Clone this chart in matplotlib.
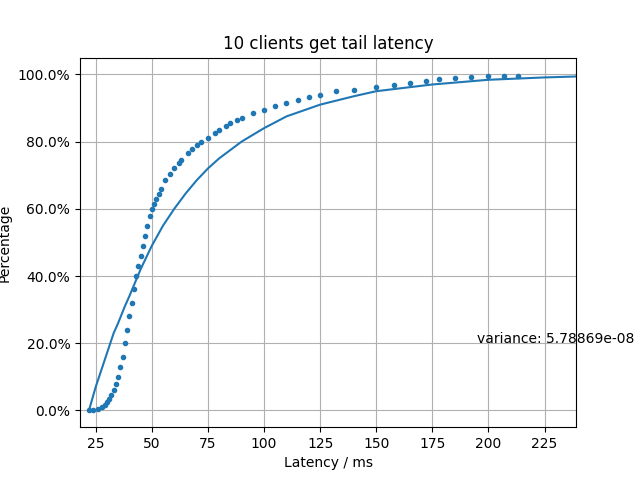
import matplotlib
matplotlib.use("Agg")
import matplotlib.pyplot as plt
from matplotlib.ticker import PercentFormatter

# empirical latency samples (ms) and their cumulative percentage (%)
lat = [22, 24, 26, 28, 29, 30, 31, 32, 33, 34, 35, 36, 37, 38, 39, 40, 41, 42, 43, 44,
       45, 46, 47, 48, 49, 50, 51, 52, 53, 54, 56, 58, 60, 62, 63, 66, 68, 70, 72, 75, 78, 80, 83, 85, 88,
       90, 95, 100, 105, 110, 115, 120, 125, 132, 140, 150, 158, 165, 172, 178, 185, 192, 200, 207, 213, 240]
pct = [0, 0, 0.3, 1, 1.5, 2.5, 3.5, 4.5, 6, 8, 10, 13, 16, 20, 24, 28, 32, 36, 40, 43,
       46, 49, 52, 55, 58, 60, 61.5, 63, 64.5, 66, 68.5, 70.5, 72, 73.5, 74.5, 76.5, 77.8, 79, 80, 81, 82.5, 83.5, 84.5, 85.5, 86.3,
       87, 88.5, 89.5, 90.5, 91.5, 92.5, 93.3, 94, 95, 95.5, 96.3, 96.8, 97.3, 98, 98.5, 98.8, 99.2, 99.4, 99.5, 99.6, 100]

# fitted distribution curve
fit_x = [22, 25, 28, 30, 33, 35, 38, 40, 45, 50, 55, 60, 65, 70, 75, 80, 90, 100, 110, 125, 140, 150, 175, 200, 225, 240]
fit_y = [0, 7, 13, 17, 23, 26, 31, 34, 42, 49, 55, 60, 64.5, 68.5, 72, 75, 80, 84, 87.5, 91, 93.5, 95, 97, 98.4, 99.1, 99.4]

fig, ax = plt.subplots(figsize=(6.4, 4.8), dpi=100)
ax.plot(fit_x, fit_y, color="#1f77b4")
ax.plot(lat, pct, ".", color="#1f77b4")
ax.set_xlim(18, 239)
ax.set_ylim(-5, 105)
ax.set_xticks(range(25, 226, 25))
ax.yaxis.set_major_formatter(PercentFormatter(decimals=1))
ax.grid(True)
ax.set_title("10 clients get tail latency")
ax.set_xlabel("Latency / ms")
ax.set_ylabel("Percentage")
ax.text(195, 20, "variance: 5.78869e-08")
fig.savefig("out.png")
